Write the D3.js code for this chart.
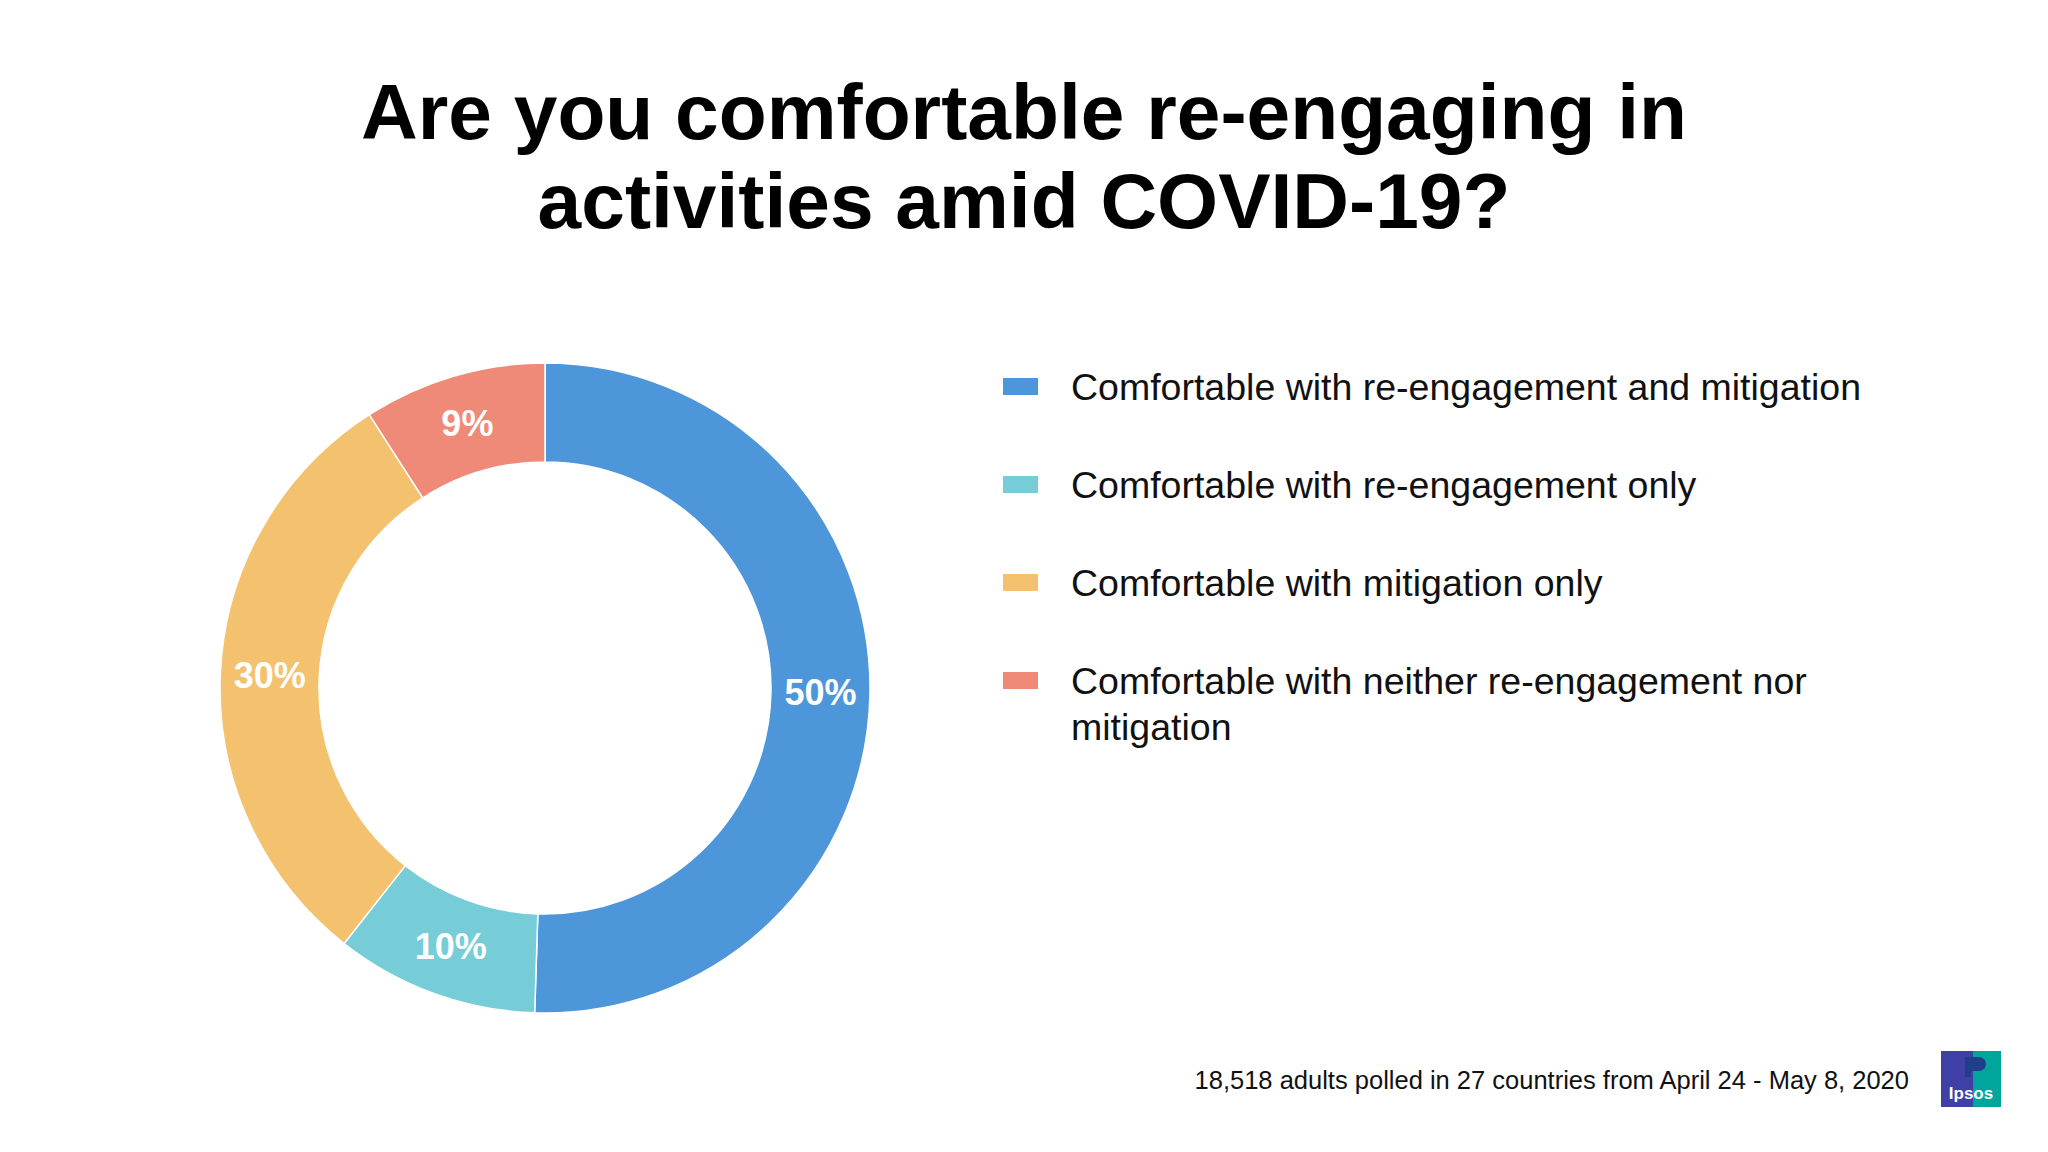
<!DOCTYPE html>
<html lang="en">
<head>
<meta charset="UTF-8" />
<title>Donut</title>
<script src="https://d3js.org/d3.v7.min.js"></script>
<style>
  body { margin: 0; background: #fff; }
  text { font-family: "Liberation Sans", Arial, sans-serif; }
</style>
</head>
<body>
<svg id="canvas"></svg>
<script>
let categories = [
  "Comfortable with re-engagement and mitigation",
  "Comfortable with re-engagement only",
  "Comfortable with mitigation only",
  "Comfortable with neither re-engagement nor mitigation"
];
let legendLines = [
  ["Comfortable with re-engagement and mitigation"],
  ["Comfortable with re-engagement only"],
  ["Comfortable with mitigation only"],
  ["Comfortable with neither re-engagement nor", "mitigation"]
];
let values = [50, 10, 30, 9];
let colors = ["#4e96da", "#76cdd8", "#f4c26f", "#ef8a78"];

let width = 2048, height = 1152;
let cx = 545, cy = 688, outerR = 325, innerR = 226;

let svg = d3.select("svg").attr("width", width).attr("height", height);

svg.append("text").attr("x", 1024).attr("y", 139).attr("text-anchor", "middle")
  .attr("font-size", 78.5).attr("font-weight", "bold")
  .text("Are you comfortable re-engaging in");
svg.append("text").attr("x", 1024).attr("y", 228).attr("text-anchor", "middle")
  .attr("font-size", 78.5).attr("font-weight", "bold")
  .text("activities amid COVID-19?");

let pie = d3.pie().sort(null).value(d => d);
let arc = d3.arc().innerRadius(innerR).outerRadius(outerR);
let g = svg.append("g").attr("transform", "translate(" + cx + "," + cy + ")");
let arcs = pie(values);

g.selectAll("path").data(arcs).enter().append("path")
  .attr("d", arc)
  .attr("fill", (d, i) => colors[i])
  .attr("stroke", "#fff").attr("stroke-width", 1.5);

g.selectAll("text.lbl").data(arcs).enter().append("text")
  .attr("class", "lbl")
  .attr("transform", d => "translate(" + arc.centroid(d) + ")")
  .attr("text-anchor", "middle").attr("dy", "0.35em")
  .attr("font-size", 36).attr("font-weight", "bold").attr("fill", "#fff")
  .text(d => d.data + "%");

let legend = svg.append("g");
let rowY = d3.scalePoint().domain(d3.range(categories.length)).range([387, 681]);
categories.forEach((c, i) => {
  let y = rowY(i);
  legend.append("rect").attr("x", 1003).attr("y", y - 9).attr("width", 35).attr("height", 17)
    .attr("fill", colors[i]);
  legendLines[i].forEach((line, j) => {
    legend.append("text").attr("x", 1071).attr("y", y + 13 + j * 46)
      .attr("font-size", 37.5).attr("fill", "#111").text(line);
  });
});

svg.append("text").attr("x", 1909).attr("y", 1089).attr("text-anchor", "end")
  .attr("font-size", 25.5).attr("fill", "#111")
  .text("18,518 adults polled in 27 countries from April 24 - May 8, 2020");

// logo
let logo = svg.append("g").attr("transform", "translate(1941,1051)");
logo.append("rect").attr("width", 60).attr("height", 56).attr("fill", "#00a69c");
logo.append("rect").attr("width", 32).attr("height", 56).attr("fill", "#3f3fa6");
logo.append("path").attr("d", "M24,6 h14 a6,6 0 0 1 0,14 h-8 v6 h-6 z").attr("fill", "#1f3f8a");
logo.append("text").attr("x", 30).attr("y", 48).attr("text-anchor", "middle")
  .attr("font-size", 17).attr("font-weight", "bold").attr("fill", "#fff").text("Ipsos");
</script>
</body>
</html>
